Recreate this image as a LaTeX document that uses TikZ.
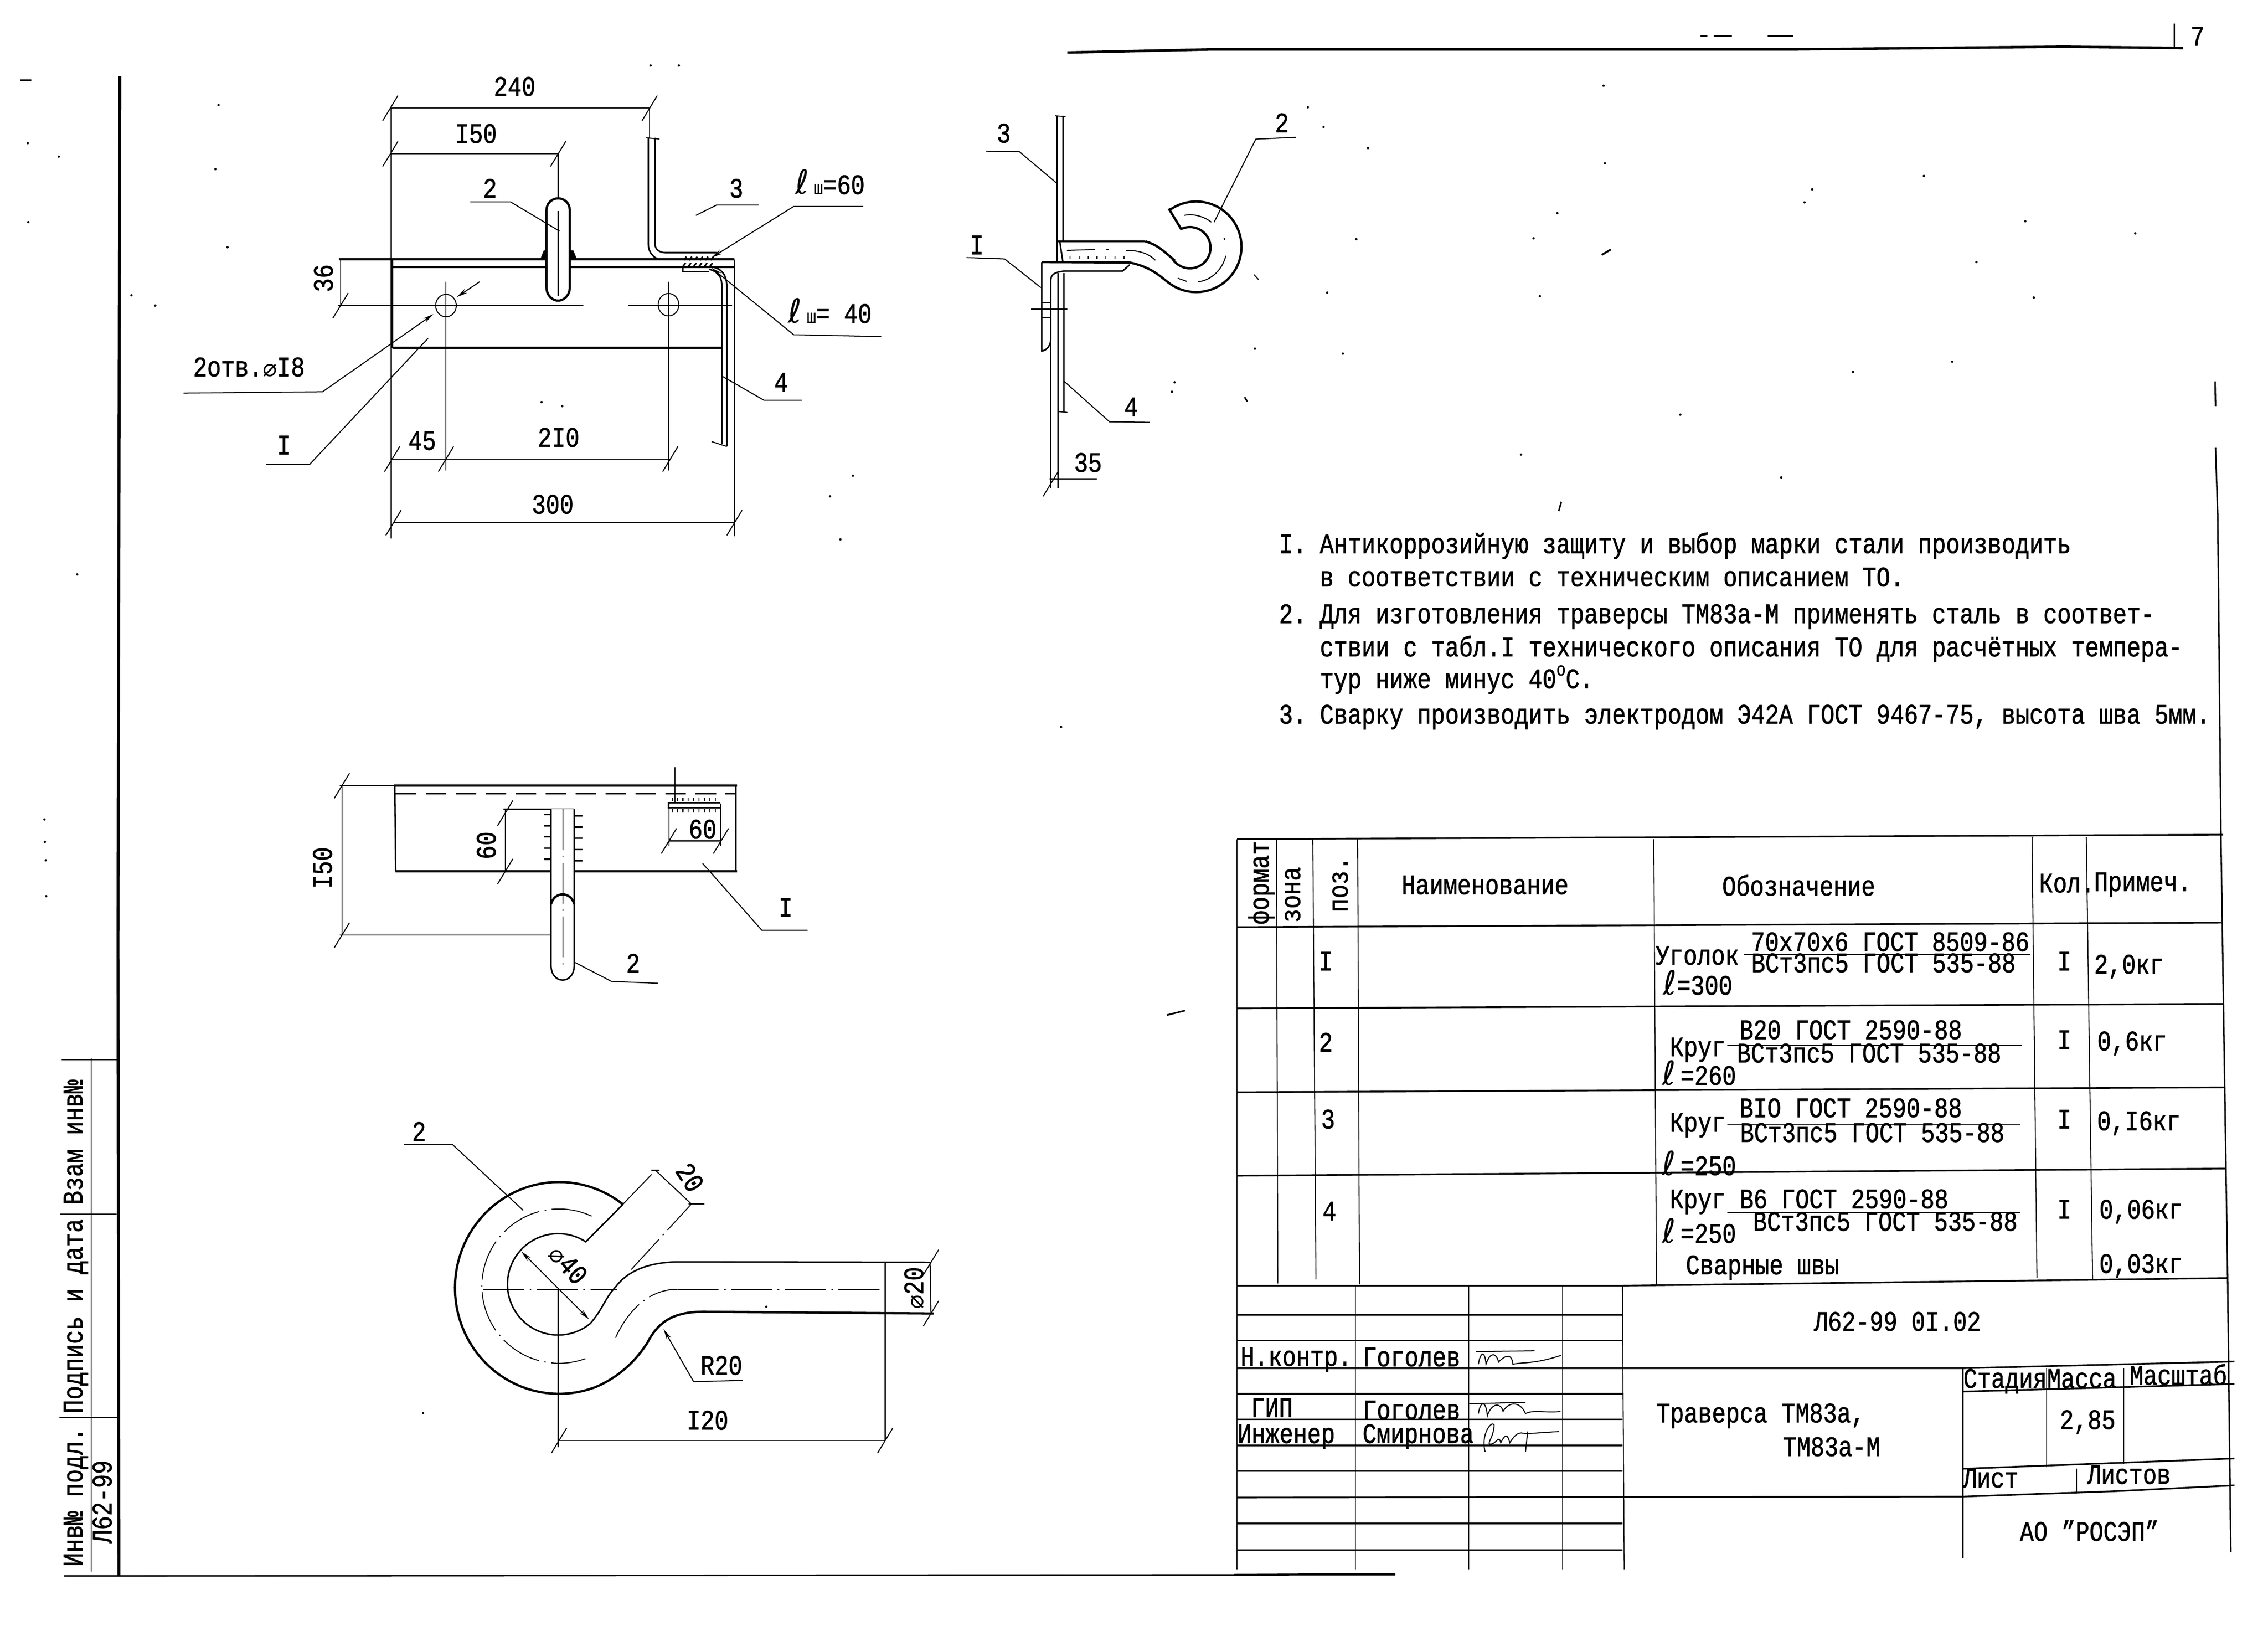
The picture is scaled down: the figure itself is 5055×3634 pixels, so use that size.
\documentclass[tikz,border=0pt]{standalone}
\usepackage{fontspec}
\setmainfont[FakeStretch=0.821,FakeBold=1.2]{Liberation Mono}
\newfontfamily\djv{DejaVu Sans}
\usetikzlibrary{arrows.meta}
\newcounter{tn}
\newcommand\Tx[4][]{\stepcounter{tn}\node[lbl,#1] (t\arabic{tn}) at (#2,#3) {#4};}
\newcommand\tk[2]{\draw[thn] (#1-17,#2+28) -- (#1+17,#2-28);}
\newcommand\Lsc{{\djv\fontsize{21}{21}\selectfont ℓ}}
\newcommand\Dm{{\djv\fontsize{15}{15}\selectfont ⌀}}
\tikzset{
  lbl/.style={inner sep=0pt,text height=.66em,text depth=0pt,font=\fontsize{17.9}{20}\selectfont,text=black},
  notel/.style={lbl,anchor=west},
  thn/.style={line width=.65pt,black},
  med/.style={line width=.95pt,black},
  thk/.style={line width=1.45pt,black},
  heavy/.style={line width=1.9pt,black},
  axis/.style={line width=.6pt,black,dash pattern=on 26pt off 3.5pt on 1pt off 3.5pt},
  arr/.style={thn,-{Stealth[length=7pt,width=3pt]}},
  arrb/.style={thn,{Stealth[length=7pt,width=3pt]}-{Stealth[length=7pt,width=3pt]}},
  tabh/.style={line width=1.05pt,black},
  tabv/.style={line width=.6pt,black}
}
\begin{document}
\begin{tikzpicture}[x=0.01cm,y=-0.01cm]
\fill[white] (0,0) rectangle (5055,3634);
\useasboundingbox (0,0) rectangle (5055,3634);
% ---------- sheet frame
\draw[heavy] (267,170) -- (263,2100) -- (265,3510);
\draw[line width=1.6pt] (2379,117) -- (2700,110) -- (3500,110) -- (4000,110) -- (4600,104) -- (4866,107);
\draw[med] (4846,53) -- (4846,107);
\Tx{4898}{90}{7}
\draw[med] (4937,850) -- (4938,905);
\draw[med] (4938,998) -- (4943,1150) -- (4950,1864) -- (4965,2852) -- (4972,3459);
\draw[med] (143,3512) -- (3110,3509);
\draw[thn] (203,2358) -- (203,3502);
\draw[thn] (137,2362) -- (263,2362);
\draw[thn] (133,2706) -- (260,2706);
\draw[thn] (132,3158) -- (265,3158);
\Tx[rotate=90]{172}{3336}{Инв№ подл.}
\Tx[rotate=90]{172}{2933}{Подпись и дата}
\Tx[rotate=90]{172}{2545}{Взам инв№}
\Tx[rotate=90]{237}{3347}{Л62-99}
% ---------- main view
\draw[thn] (872,241) -- (872,1200);
\draw[thn] (870,241) -- (1448,241);
\draw[thn] (1448,241) -- (1448,307);
\tk{870}{241}\tk{1448}{241}
\draw[thn] (870,343) -- (1244,343);
\tk{870}{343}\tk{1244}{343}
\draw[thn] (1244,343) -- (1244,442);
\draw[thk] (874,578) -- (874,775);
\draw[thk] (755,578) -- (1637,578);
\draw[thk] (874,595) -- (1637,595);
\draw[thk] (874,775) -- (1609,775);
\draw[thn] (759,578) -- (759,681);
\tk{759}{681}
\draw[thn] (753,681) -- (1300,681);
\draw[thn] (1400,681) -- (1632,681);
\draw[thn] (1637,578) -- (1637,1195);
\draw[thn] (994,628) -- (994,1048);
\draw[thn] (1490,628) -- (1490,1048);
\draw[thn,fill=none] (994,681) ellipse [x radius=23,y radius=25];
\draw[thn] (1490,679) ellipse [x radius=23,y radius=25];
\draw[thn] (874,1023) -- (1494,1023);
\tk{874}{1023}\tk{994}{1023}\tk{1494}{1023}
\draw[thn] (877,1165) -- (1637,1165);
\tk{877}{1165}\tk{1637}{1165}
% bar 2, top view
\fill (1204,578) -- (1212,558) -- (1222,558) -- (1222,578) -- cycle;
\fill (1266,578) -- (1266,558) -- (1278,558) -- (1286,578) -- cycle;
\draw[thk,fill=white] (1218,470) .. controls (1218,448) and (1235,442) .. (1244,442) .. controls (1253,442) and (1270,448) .. (1270,470) -- (1270,640) .. controls (1270,660) and (1255,670) .. (1244,670) .. controls (1233,670) and (1218,660) .. (1218,640) -- cycle;
\draw[thn] (1244,470) -- (1244,660);
% part 3, top view
\draw[med] (1445,307) -- (1445,545) .. controls (1445,560) and (1455,575) .. (1470,578);
\draw[med] (1460,307) -- (1460,545) .. controls (1460,555) and (1470,563) .. (1482,563) -- (1597,563);
\draw[thn] (1440,307) -- (1470,310);
\draw[med] (1522,595) -- (1522,605) -- (1580,605);
\foreach \q in {1530,1542,...,1590}{\draw[line width=1pt] (\q,572) -- (\q-6,580) (\q-2,586) -- (\q-8,594);}
% part 4, top view
\draw[med] (1580,600) .. controls (1600,605) and (1609,615) .. (1609,640) -- (1609,990);
\draw[med] (1585,595) .. controls (1610,597) and (1620,615) .. (1620,640) -- (1620,995);
\draw[thn] (1586,984) -- (1620,995);
% leaders main
\coordinate (a2) at (1247,515);
\draw[thn] (1048,450) -- (1138,450) -- (a2);
\draw[thn] (1551,480) -- (1597,457) -- (1691,457);
\draw[arr] (1924,460) -- (1769,460) -- (1586,574);
\draw[arr] (1964,750) -- (1769,746) -- (1586,597);
\draw[thn] (1609,838) -- (1703,892) -- (1787,892);
\draw[arr] (409,876) -- (719,873) -- (966,700);
\draw[arr] (1069,628) -- (1018,662);
\draw[thn] (593,1035) -- (690,1035) -- (954,754);
\Tx{1147}{202}{240}
\Tx{1061}{307}{I50}
\Tx[rotate=90]{730}{620}{36}
\Tx{941}{991}{45}
\Tx{1245}{984}{2I0}
\Tx{1232}{1133}{300}
\Tx{1092}{429}{2}
\Tx{1641}{429}{3}
\Tx{1741}{861}{4}
\Tx{633}{1001}{I}
\Tx{1850}{421}{\Lsc\,{\fontsize{12}{12}\selectfont ш}=60}
\Tx{1850}{708}{\Lsc\,{\fontsize{12}{12}\selectfont ш}= 40}
\Tx{555}{827}{2отв.\Dm I8}
% ---------- side view
\draw[med] (2356,258) -- (2356,584);
\draw[med] (2369,258) -- (2369,538);
\draw[thn] (2352,258) -- (2375,260);
\draw[med] (2362,538) -- (2369,584);
\draw[thk] (2322,584) -- (2518,585);
\draw[med] (2358,538) -- (2553,538);
\draw[med] (2322,584) -- (2322,782) .. controls (2332,782) and (2342,770) .. (2342,756) -- (2342,625) .. controls (2342,612) and (2350,606) .. (2374,604) -- (2502,604) -- (2518,590);
\draw[med] (2342,756) -- (2342,1088);
\draw[med] (2358,609) -- (2358,1088);
\draw[med] (2371,609) -- (2371,919);
\draw[thn] (2358,917) -- (2379,919);
\draw[thn] (2322,674) -- (2342,674);
\draw[thn] (2322,708) -- (2342,708);
\draw[thn] (2298,689) -- (2379,689);
\draw[thn] (2339,1067) -- (2445,1067);
\tk{2342}{1078}
% hook side
\draw[thk] (2553,538) .. controls (2580,545) and (2600,565) .. (2614,577)
  -- plot[domain=213:475,samples=50] ({2652+46*cos(\x)},{552-46*sin(\x)}) -- (2605,465);
\draw[thk] (2605,465) -- plot[domain=125.7:-128.5,samples=60] ({2666+101*cos(\x)},{550-101*sin(\x)})
  .. controls (2585,615) and (2565,595) .. (2518,585);
\draw[thn] (2640,480) .. controls (2655,476) and (2680,480) .. (2700,495);
\draw[thn] (2728,530) -- (2730,535);
\draw[thn] (2732,570) .. controls (2725,600) and (2700,625) .. (2670,628);
\draw[thn] (2625,620) -- (2645,627);
\draw[thn] (2378,558) -- (2440,556);
\draw[thn] (2465,556) -- (2472,556);
\draw[thn] (2510,558) .. controls (2540,558) and (2560,565) .. (2575,580);
\foreach \q in {2385,2405,...,2510}{\draw[thn] (\q,570) -- (\q,577);}
% leaders side
\draw[thn] (2888,306) -- (2799,310) -- (2706,495);
\draw[thn] (2198,337) -- (2272,338) -- (2355,408);
\draw[thn] (2154,574) -- (2239,577) -- (2320,641);
\draw[thn] (2371,849) -- (2473,940) -- (2563,941);
\Tx{2857}{283}{2}
\Tx{2237}{306}{3}
\Tx{2177}{555}{I}
\Tx{2521}{916}{4}
\Tx{2425}{1040}{35}
% ---------- section view
\draw[thn] (757,1751) -- (878,1751);
\draw[thk] (878,1751) -- (1643,1751);
\draw[thk] (882,1942) -- (1643,1942);
\draw[med] (880,1751) -- (882,1942);
\draw[med] (1640,1751) -- (1640,1942);
\draw[med,dash pattern=on 13pt off 6pt] (882,1769) -- (1640,1769);
\draw[thn] (762,1751) -- (762,2083);
\tk{762}{1751}
\draw[thn] (757,2084) -- (1263,2084);
\tk{762}{2084}
\draw[med] (1122,1803) -- (1280,1803);
\draw[thn] (1126,1803) -- (1126,1942);
\tk{1126}{1812}\tk{1126}{1942}
\draw[med,fill=white] (1228,1803) -- (1228,2150) .. controls (1228,2172) and (1240,2184) .. (1254,2184) .. controls (1268,2184) and (1280,2172) .. (1280,2150) -- (1280,1803);
\draw[thk] (1228,2015) .. controls (1232,2000) and (1243,1993) .. (1254,1993) .. controls (1265,1993) and (1276,2000) .. (1280,2015);
\draw[axis] (1255,1803) -- (1255,2160);
\foreach \q in {1815,1840,...,1930}{\draw[line width=1pt] (1213,\q) -- (1228,\q) (1280,\q+3) -- (1298,\q+3);}
\draw[axis] (1504,1710) -- (1504,1790);
\draw[med] (1490,1802) -- (1490,1789) -- (1605,1789);
\draw[med] (1490,1800) -- (1605,1800);
\foreach \q in {1498,1510,...,1605}{\draw[thn] (\q,1777) -- (\q,1785) (\q,1803) -- (\q,1811);}
\draw[thn] (1491,1790) -- (1491,1886);
\draw[thn] (1606,1790) -- (1606,1886);
\draw[thn] (1491,1874) -- (1607,1874);
\tk{1491}{1874}\tk{1607}{1874}
\draw[thn] (1566,1924) -- (1698,2073) -- (1800,2073);
\draw[thn] (1280,2144) -- (1363,2187) -- (1466,2191);
\Tx[rotate=90]{728}{1934}{I50}
\Tx[rotate=90]{1093}{1884}{60}
\Tx{1566}{1857}{60}
\Tx{1751}{2031}{I}
\Tx{1411}{2156}{2}
% ---------- hook detail
\draw[thk] (1389,2683) -- plot[domain=52.6:290,samples=70] ({1246+232*cos(\x)},{2870-236*sin(\x)})
  .. controls (1390,3065) and (1425,3020) .. (1443,2992) .. controls (1465,2950) and (1495,2923) .. (1568,2923) -- (2081,2927);
\draw[med] (1389,2683) -- (1306,2767) -- plot[domain=57:309.4,samples=60] ({1244+113*cos(\x)},{2862-113*sin(\x)})
  .. controls (1345,2915) and (1350,2890) .. (1372,2868) .. controls (1400,2830) and (1450,2812) .. (1514,2812) -- (2073,2813);
\draw[axis] plot[domain=65:290,samples=60] ({1246+172*cos(\x)},{2866-172*sin(\x)});
\draw[axis] (1372,2981) .. controls (1395,2930) and (1440,2873) .. (1510,2873);
\draw[axis] (1077,2873) -- (1375,2873);
\draw[axis] (1510,2873) -- (1973,2873);
\draw[thn] (1244,2873) -- (1244,3225);
\draw[thn] (1973,2813) -- (1973,3210);
\draw[thn] (2073,2813) -- (2075,2927);
\tk{2075}{2813}\tk{2075}{2927}
\draw[thn] (1246,3210) -- (1973,3210);
\tk{1246}{3210}\tk{1973}{3210}
\draw[axis] (1389,2683) -- (1461,2608);
\draw[axis] (1407,2829) -- (1541,2683);
\draw[thn] (1461,2608) -- (1541,2683);
\draw[med] (1452,2608) -- (1470,2608);
\draw[med] (1535,2683) -- (1570,2683);
\draw[arrb] (1162,2789) -- (1313,2940);
\draw[thn] (900,2550) -- (1008,2550) -- (1166,2697);
\draw[arr] (1546,3079) -- (1479,2962);
\draw[thn] (1546,3079) -- (1655,3076);
\Tx{934}{2531}{2}
\Tx[rotate=-48]{1260}{2824}{\Dm 40}
\Tx[rotate=-57]{1530}{2629}{20}
\Tx[rotate=90]{2046}{2870}{\Dm 20}
\Tx{1608}{3052}{R20}
\Tx{1577}{3174}{I20}
% ---------- notes
\Tx[notel]{2850}{1221}{I.}
\Tx[notel]{2941}{1221}{Антикоррозийную защиту и выбор марки стали производить}
\Tx[notel]{2941}{1295}{в соответствии с техническим описанием ТО.}
\Tx[notel]{2850}{1377}{2.}
\Tx[notel]{2941}{1377}{Для изготовления траверсы ТМ83а-М применять сталь в соответ-}
\Tx[notel]{2941}{1451}{ствии с табл.I технического описания ТО для расчётных темпера-}
\Tx[notel]{2941}{1522}{тур ниже минус 40\raisebox{.45em}{\fontsize{12}{12}\selectfont o}С.}
\Tx[notel]{2850}{1601}{3.}
\Tx[notel]{2941}{1601}{Сварку производить электродом Э42А ГОСТ 9467-75, высота шва 5мм.}
% ---------- specification table
\draw[tabh] (2757,1870) -- (4955,1860);
\draw[tabh] (2757,2066) -- (4950,2056);
\draw[tabh] (2757,2247) -- (4955,2237);
\draw[tabh] (2757,2434) -- (4958,2423);
\draw[tabh] (2757,2620) -- (4962,2604);
\draw[tabh] (2757,2865) -- (3616,2865) -- (4965,2848);
\draw[tabv] (2757,1870) -- (2757,3497);
\draw[tabv] (2845,1870) -- (2848,2860);
\draw[tabv] (2926,1870) -- (2933,2851);
\draw[tabv] (3026,1870) -- (3030,2862);
\draw[tabv] (3686,1870) -- (3692,2862);
\draw[tabv] (4529,1865) -- (4540,2848);
\draw[tabv] (4650,1865) -- (4664,2850);
\Tx[rotate=90]{2816}{1967}{формат}
\Tx[rotate=90]{2886}{1994}{зона}
\Tx[rotate=90]{2992}{1971}{поз.}
\Tx{3310}{1981}{Наименование}
\Tx{4009}{1984}{Обозначение}
\Tx{4607}{1977}{Кол.}
\Tx{4776}{1974}{Примеч.}
\Tx{2955}{2151}{I}
\Tx{2955}{2332}{2}
\Tx{2960}{2503}{3}
\Tx{2963}{2708}{4}
\Tx{3783}{2138}{Уголок}
\Tx{4213}{2108}{70х70х6 ГОСТ 8509-86}
\draw[thn] (3887,2127) -- (4525,2127);
\Tx{4198}{2155}{ВСт3пс5 ГОСТ 535-88}
\Tx{3784}{2205}{\Lsc=300}
\Tx{4601}{2151}{I}
\Tx{4745}{2158}{2,0кг}
\Tx{3784}{2342}{Круг}
\Tx{4125}{2304}{В20 ГОСТ 2590-88}
\draw[thn] (3850,2329) -- (4506,2329);
\Tx{4166}{2356}{ВСт3пс5 ГОСТ 535-88}
\Tx{3787}{2406}{\Lsc\,=260}
\Tx{4601}{2326}{I}
\Tx{4752}{2329}{0,6кг}
\Tx{3784}{2510}{Круг}
\Tx{4125}{2478}{ВIО ГОСТ 2590-88}
\draw[thn] (3850,2505) -- (4503,2505);
\Tx{4173}{2533}{ВСт3пс5 ГОСТ 535-88}
\Tx{3787}{2607}{\Lsc\,=250}
\Tx{4601}{2503}{I}
\Tx{4767}{2507}{0,I6кг}
\Tx{3784}{2681}{Круг}
\Tx{4110}{2681}{В6 ГОСТ 2590-88}
\draw[thn] (3850,2702) -- (4503,2702);
\Tx{4202}{2731}{ВСт3пс5 ГОСТ 535-88}
\Tx{3787}{2758}{\Lsc\,=250}
\Tx{4601}{2704}{I}
\Tx{4772}{2704}{0,06кг}
\Tx{3928}{2828}{Сварные швы}
\Tx{4772}{2825}{0,03кг}
% ---------- title block
\foreach \q in {2930,2987,3106,3163,3221,3278,3395,3454}{\draw[tabh] (2757,\q) -- (3616,\q);}
\draw[tabh] (2757,3049) -- (4375,3049) -- (4980,3034);
\draw[tabh] (2757,3337) -- (4375,3335) -- (4715,3323) -- (4980,3310);
\draw[tabh] (2750,3509) -- (3110,3507);
\draw[tabv] (3021,2865) -- (3021,3497);
\draw[tabv] (3274,2865) -- (3274,3497);
\draw[tabv] (3483,2865) -- (3483,3497);
\draw[tabv] (3616,2865) -- (3620,3497);
\draw[tabv] (4375,3049) -- (4375,3472);
\draw[tabh] (4375,3101) -- (4980,3084);
\draw[tabh] (4375,3273) -- (4980,3250);
\draw[tabv] (4562,3049) -- (4562,3270);
\draw[tabv] (4733,3049) -- (4733,3262);
\draw[tabv] (4628,3273) -- (4628,3328);
\Tx{4229}{2954}{Л62-99 0I.02}
\Tx{2889}{3032}{Н.контр.}
\Tx{3146}{3033}{Гоголев}
\Tx{2835}{3146}{ГИП}
\Tx{3146}{3151}{Гоголев}
\Tx{2867}{3204}{Инженер}
\Tx{3161}{3204}{Смирнова}
\Tx{3924}{3158}{Траверса ТМ83а,}
\Tx{4082}{3233}{ТМ83а-М}
\Tx{4469}{3081}{Стадия}
\Tx{4640}{3081}{Масса}
\Tx{4855}{3074}{Масштаб}
\Tx{4653}{3173}{2,85}
\Tx{4437}{3303}{Лист}
\Tx{4745}{3295}{Листов}
\Tx{4657}{3422}{АО "РОСЭП"}
% signatures
\draw[thn] (3295,3040) .. controls (3300,3010) and (3310,3010) .. (3312,3040) .. controls (3322,3010) and (3335,3015) .. (3340,3035) .. controls (3360,3015) and (3370,3020) .. (3372,3040) .. controls (3395,3035) and (3420,3040) .. (3480,3020);
\draw[thn] (3290,3012) -- (3420,3010);
\draw[thn] (3295,3150) .. controls (3300,3120) and (3312,3120) .. (3315,3155) .. controls (3325,3125) and (3345,3125) .. (3350,3145) .. controls (3365,3120) and (3390,3125) .. (3400,3150) .. controls (3420,3140) and (3450,3150) .. (3478,3145);
\draw[thn] (3275,3128) -- (3400,3125);
\draw[thn] (3310,3235) .. controls (3300,3195) and (3325,3165) .. (3330,3175) .. controls (3330,3200) and (3315,3215) .. (3320,3218) .. controls (3335,3220) and (3340,3195) .. (3345,3215) .. controls (3355,3195) and (3360,3195) .. (3365,3215) .. controls (3378,3195) and (3385,3190) .. (3400,3195) -- (3475,3190);
\draw[thn] (3405,3190) -- (3400,3235);
\draw[tabh] (3400,3221) -- (3480,3221);
% ---------- scan specks
\foreach \a/\b in {3574/191,3577/364,4288/392,4039/422,4022/451,3471/475,3418/531,3432/660,4759/520,4514/493,4405/584,4533/663,4351/806,4130/829,3745/924,3390/1013,3970/1064,62/319,63/495,131/349,99/1826,100/1876,102/1917,103/1997,293/658,172/1280,1513/146,1450/146,487/234,480/377,507/551,346/681,1207/896,1253/905,1901/1060,1850/1106,1873/1202,2915/239,2950/283,3049/330,3023/533,2958/652,2797/777,2993/788,2618/852,2612/873,1708/2912,943/3149,2365/1620}{\fill (\a,\b) circle (.75pt);}
\draw[line width=1.2pt] (45,179) -- (70,179);
\draw[line width=1.2pt] (3570,568) -- (3590,556);
\draw[line width=1pt] (3474,1139) -- (3480,1118);
\draw[line width=1pt] (2774,885) -- (2780,895);
\draw[thn] (2795,612) -- (2805,623);
\draw[line width=1pt] (2601,2262) -- (2641,2252);
\draw[line width=1.1pt] (3790,80) -- (3805,80) (3820,80) -- (3860,80) (3940,80) -- (3996,80);
\end{tikzpicture}
\end{document}
